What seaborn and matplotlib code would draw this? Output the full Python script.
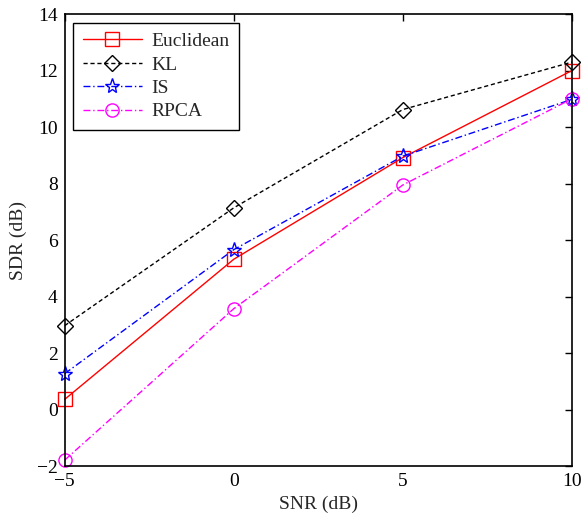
import matplotlib
matplotlib.use("Agg")
import matplotlib.pyplot as plt
import seaborn as sns
import pandas as pd

snr = [-5, 0, 5, 10]
euclidean = [0.36, 5.32, 8.92, 12.0]
kl = [2.97, 7.14, 10.62, 12.3]
is_vals = [1.27, 5.66, 8.97, 10.98]
rpca = [-1.79, 3.57, 7.95, 11.0]

series = ["Euclidean", "KL", "IS", "RPCA"]
colors = ["#ff0000", "#000000", "#0000ff", "#ff00ff"]
markers = ["s", "D", "*", "o"]
styles = ["-", (0, (3, 2)), (0, (5, 2, 1, 2)), (0, (5, 2, 1, 2))]
msizes = [9.5, 8.5, 11, 9.5]

sns.set_theme(style="white")
plt.rcParams["font.family"] = ["Liberation Serif", "DejaVu Serif"]

fig = plt.figure(figsize=(5.83, 5.13), dpi=100)
ax = fig.add_axes([0.111, 0.0916, 0.87, 0.881])

for name, vals, c, m, ls, ms in zip(series, [euclidean, kl, is_vals, rpca], colors, markers, styles, msizes):
    df = pd.DataFrame({"SNR": snr, "SDR": vals})
    sns.lineplot(data=df, x="SNR", y="SDR", ax=ax, color=c, marker=m, linestyle=ls,
                 markersize=ms, markerfacecolor="none", markeredgecolor=c,
                 markeredgewidth=1.0, linewidth=1.0, label=name, clip_on=False)

ax.set_xlim(-5, 10)
ax.set_ylim(-2, 14)
ax.set_xticks([-5, 0, 5, 10])
ax.set_yticks(list(range(-2, 15, 2)))
ax.set_xticklabels(["\u22125", "0", "5", "10"])
ax.set_yticklabels(["\u22122"] + [str(v) for v in range(0, 15, 2)])
ax.tick_params(direction="in", length=5, width=1, top=True, right=True,
               labelsize=14, colors="black", pad=5)
for s in ax.spines.values():
    s.set_visible(True)
    s.set_color("black")
    s.set_linewidth(1.2)
ax.set_xlabel("SNR (dB)", fontsize=14, labelpad=4)
ax.set_ylabel("SDR (dB)", fontsize=14, labelpad=7)
ax.grid(False)
ax.set_facecolor("white")

leg = ax.legend(loc="upper left", fontsize=14, frameon=True, fancybox=False,
                edgecolor="black", framealpha=1, borderaxespad=0.45,
                handlelength=3.0, handletextpad=0.5, labelspacing=0.3, borderpad=0.5)
leg.get_frame().set_linewidth(1.0)

fig.savefig("out.png", dpi=100, facecolor="white")
